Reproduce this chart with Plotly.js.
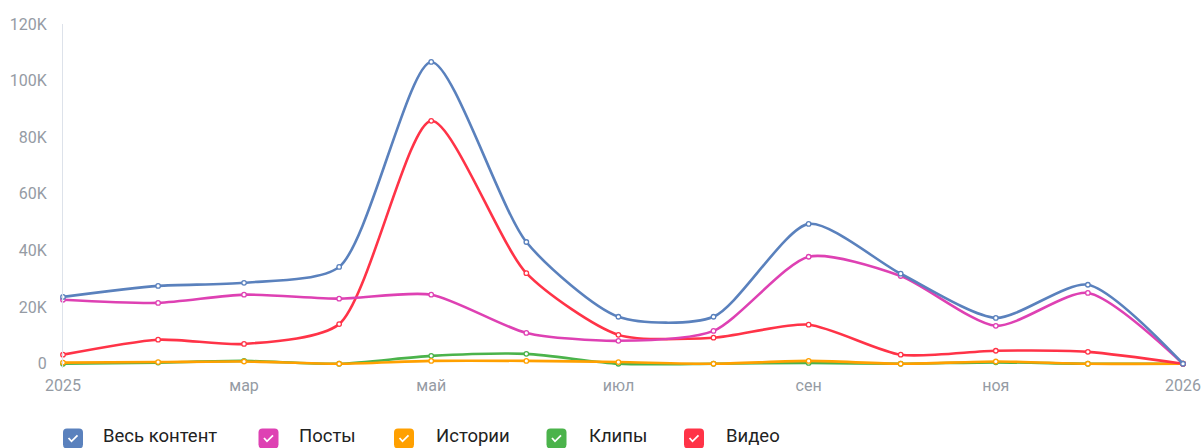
<!DOCTYPE html>
<html>
<head>
<meta charset="utf-8">
<script src="https://cdn.plot.ly/plotly-3.0.1.min.js"></script>
<style>
html,body{margin:0;padding:0;background:#fff;}
#chart{width:1202px;height:448px;}
</style>
</head>
<body>
<div id="chart"></div>
<script>
// ---- data ----
const months = ['2025-01-01','2025-02-01','2025-03-01','2025-04-01','2025-05-01','2025-06-01','2025-07-01','2025-08-01','2025-09-01','2025-10-01','2025-11-01','2025-12-01','2026-01-01'];
const seriesNames = ['Весь контент','Посты','Истории','Клипы','Видео'];
const allContent = [23600, 27500, 28600, 34200, 106600, 43000, 16600, 16600, 49400, 31800, 16200, 27900, 0];
const posts      = [22600, 21500, 24400, 23000, 24400, 10900, 8100, 11600, 37800, 31000, 13400, 25000, 0];
const stories    = [400, 600, 800, 0, 1000, 1000, 600, 0, 1000, 0, 800, 0, 0];
const clips      = [0, 400, 1000, 0, 2800, 3500, 0, 0, 300, 0, 500, 0, 0];
const video      = [3200, 8500, 7000, 14000, 85800, 32000, 10200, 9200, 13800, 3200, 4600, 4200, 0];
const xTickVals  = ['2025-01-01','2025-03-01','2025-05-01','2025-07-01','2025-09-01','2025-11-01','2026-01-01'];
const xTickText  = ['2025','мар','май','июл','сен','ноя','2026'];
const yTickVals  = [0, 20000, 40000, 60000, 80000, 100000, 120000];
const yTickText  = ['0','20K','40K','60K','80K','100K','120K'];

const colors = {
  'Весь контент': '#5a81bd',
  'Посты': '#de41b3',
  'Истории': '#ffa000',
  'Клипы': '#4bb34b',
  'Видео': '#ff3347'
};
const valuesByName = {
  'Весь контент': allContent,
  'Посты': posts,
  'Истории': stories,
  'Клипы': clips,
  'Видео': video
};

// draw order (bottom to top)
const drawOrder = ['Клипы','Истории','Видео','Посты','Весь контент'];
const traces = drawOrder.map(name => ({
  type: 'scatter',
  mode: 'lines+markers',
  name: name,
  x: months,
  y: valuesByName[name],
  line: {color: colors[name], width: 2.6, shape: 'spline', smoothing: 0.7},
  marker: {size: 4.5, color: '#ffffff', line: {color: colors[name], width: 1.3}},
  cliponaxis: false,
  showlegend: false,
  hoverinfo: 'x+y+name'
}));

// ---- custom checkbox legend (shapes + annotations) ----
const plotL = 63, plotR = 1183, plotT = 24, plotB = 368;
const px2x = px => (px - plotL) / (plotR - plotL);
const px2y = py => (plotB - py) / (plotB - plotT);
const legendBoxCenters = [73, 268.5, 404, 556.5, 694];
const legendTextLeft = [102, 298, 435, 588, 725];
const legendBoxY = 438.5;
const legendTextY = 436;

const shapes = [];
const annotations = [];
const boxPath = (h, r) => {
  return `M ${-h+r},${-h} L ${h-r},${-h} Q ${h},${-h} ${h},${-h+r} L ${h},${h-r} Q ${h},${h} ${h-r},${h} L ${-h+r},${h} Q ${-h},${h} ${-h},${h-r} L ${-h},${-h+r} Q ${-h},${-h} ${-h+r},${-h} Z`;
};
seriesNames.forEach((name, i) => {
  shapes.push({
    type: 'path', xref: 'paper', yref: 'paper',
    xsizemode: 'pixel', ysizemode: 'pixel',
    xanchor: px2x(legendBoxCenters[i]), yanchor: px2y(legendBoxY),
    path: boxPath(10, 4),
    fillcolor: colors[name], line: {width: 0}
  });
  shapes.push({
    type: 'path', xref: 'paper', yref: 'paper',
    xsizemode: 'pixel', ysizemode: 'pixel',
    xanchor: px2x(legendBoxCenters[i]), yanchor: px2y(legendBoxY),
    path: 'M -4.5,0.5 L -1.5,-2.8 L 4.5,3.2',
    line: {color: '#ffffff', width: 1.8}
  });
  annotations.push({
    xref: 'paper', yref: 'paper',
    x: px2x(legendTextLeft[i]), y: px2y(legendTextY),
    xanchor: 'left', yanchor: 'middle',
    text: name, showarrow: false, borderpad: 0,
    font: {family: 'Roboto, "Noto Sans", sans-serif', size: 18.5, color: '#222222'}
  });
});

const layout = {
  width: 1202, height: 448,
  margin: {l: plotL, r: 1202 - plotR, t: plotT, b: 448 - plotB},
  paper_bgcolor: '#ffffff', plot_bgcolor: '#ffffff',
  showlegend: false,
  font: {family: 'Roboto, "Noto Sans", sans-serif'},
  xaxis: {
    type: 'date',
    range: ['2025-01-01', '2026-01-01'],
    tickvals: xTickVals, ticktext: xTickText,
    showgrid: false, zeroline: false, showline: false,
    ticks: '', ticklabelstandoff: 6,
    tickfont: {size: 16, color: '#959ba4'}
  },
  yaxis: {
    range: [-1500, 120000],
    tickvals: yTickVals, ticktext: yTickText,
    showgrid: false, zeroline: false,
    showline: true, linecolor: '#dde2ea', linewidth: 1,
    ticks: '', ticklabelstandoff: 12,
    tickfont: {size: 16, color: '#959ba4'}
  },
  shapes: shapes,
  annotations: annotations
};

Plotly.newPlot('chart', traces, layout, {displayModeBar: false, staticPlot: true});
</script>
</body>
</html>
